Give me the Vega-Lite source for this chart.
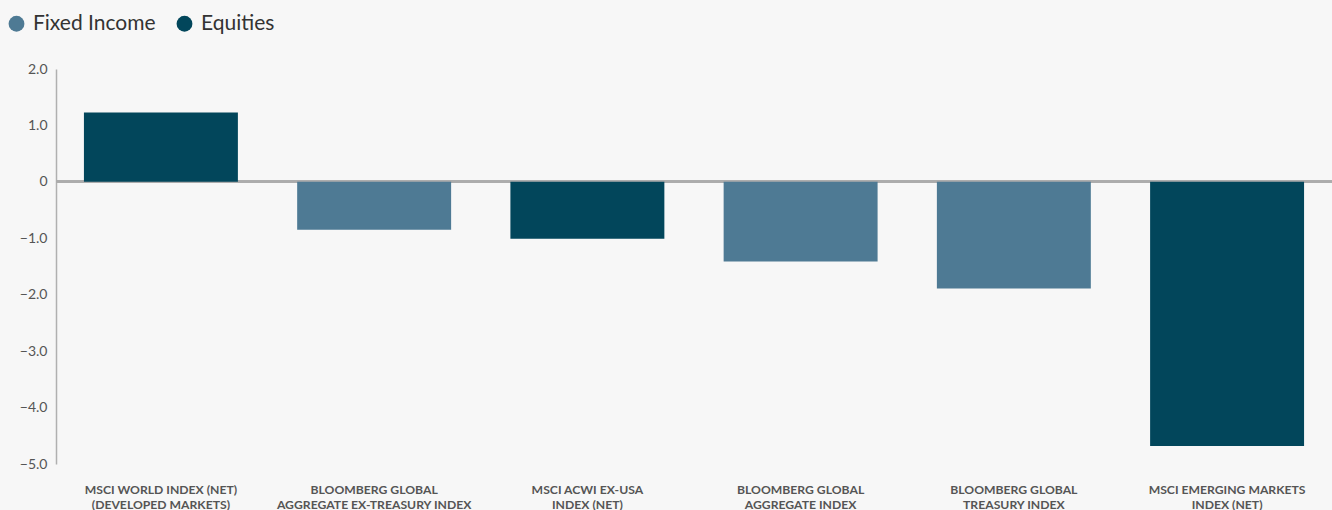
{
  "$schema": "https://vega.github.io/schema/vega-lite/v6.json",
  "width": 1276,
  "height": 395,
  "autosize": {"type": "none"},
  "padding": {"left": 56, "top": 69, "right": 0, "bottom": 46},
  "background": "#f7f7f7",
  "config": {
    "view": {"stroke": null},
    "font": "Lato"
  },
  "data": {
    "values": [
      {"index": "MSCI WORLD INDEX (NET)\n(DEVELOPED MARKETS)", "type": "Equities", "value": 1.23},
      {"index": "BLOOMBERG GLOBAL\nAGGREGATE EX-TREASURY INDEX", "type": "Fixed Income", "value": -0.85},
      {"index": "MSCI ACWI EX-USA\nINDEX (NET)", "type": "Equities", "value": -1.01},
      {"index": "BLOOMBERG GLOBAL\nAGGREGATE INDEX", "type": "Fixed Income", "value": -1.41},
      {"index": "BLOOMBERG GLOBAL\nTREASURY INDEX", "type": "Fixed Income", "value": -1.89},
      {"index": "MSCI EMERGING MARKETS\nINDEX (NET)", "type": "Equities", "value": -4.68}
    ]
  },
  "layer": [
    {
      "mark": {"type": "rule", "color": "#acacac", "strokeWidth": 2.5},
      "encoding": {"y": {"datum": 0, "type": "quantitative"}}
    },
    {
      "mark": {"type": "bar"},
      "encoding": {
        "x": {
          "field": "index",
          "type": "nominal",
          "sort": null,
          "scale": {"paddingInner": 0.278, "paddingOuter": 0.131},
          "axis": {
            "title": null,
            "orient": "bottom",
            "domain": false,
            "ticks": false,
            "labelAngle": 0,
            "labelExpr": "split(datum.value, '\\n')",
            "labelFont": "Lato",
            "labelFontWeight": "bold",
            "labelFontSize": 12.2,
            "labelLineHeight": 15,
            "labelLimit": 300,
            "labelColor": "#555555",
            "labelPadding": 25,
            "labelBaseline": "middle"
          }
        },
        "y": {
          "field": "value",
          "type": "quantitative",
          "scale": {"domain": [-5, 2], "nice": false},
          "axis": {
            "title": null,
            "grid": false,
            "ticks": false,
            "values": [2, 1, 0, -1, -2, -3, -4, -5],
            "labelExpr": "datum.value == 0 ? '0' : format(datum.value, '.1f')",
            "labelFont": "Lato",
            "labelFontSize": 14,
            "labelColor": "#555555",
            "labelPadding": 9,
            "domainColor": "#b0b0b0",
            "domainWidth": 1.5
          }
        },
        "color": {
          "field": "type",
          "type": "nominal",
          "scale": {"domain": ["Fixed Income", "Equities"], "range": ["#4e7a94", "#02465b"]},
          "legend": {
            "title": null,
            "orient": "none",
            "direction": "horizontal",
            "legendX": -50,
            "legendY": -56,
            "symbolType": "circle",
            "symbolSize": 250,
            "symbolStrokeWidth": 0,
            "labelFont": "Lato",
            "labelFontSize": 21,
            "labelColor": "#333333",
            "labelOffset": 6,
            "columnPadding": 18
          }
        }
      }
    }
  ]
}
